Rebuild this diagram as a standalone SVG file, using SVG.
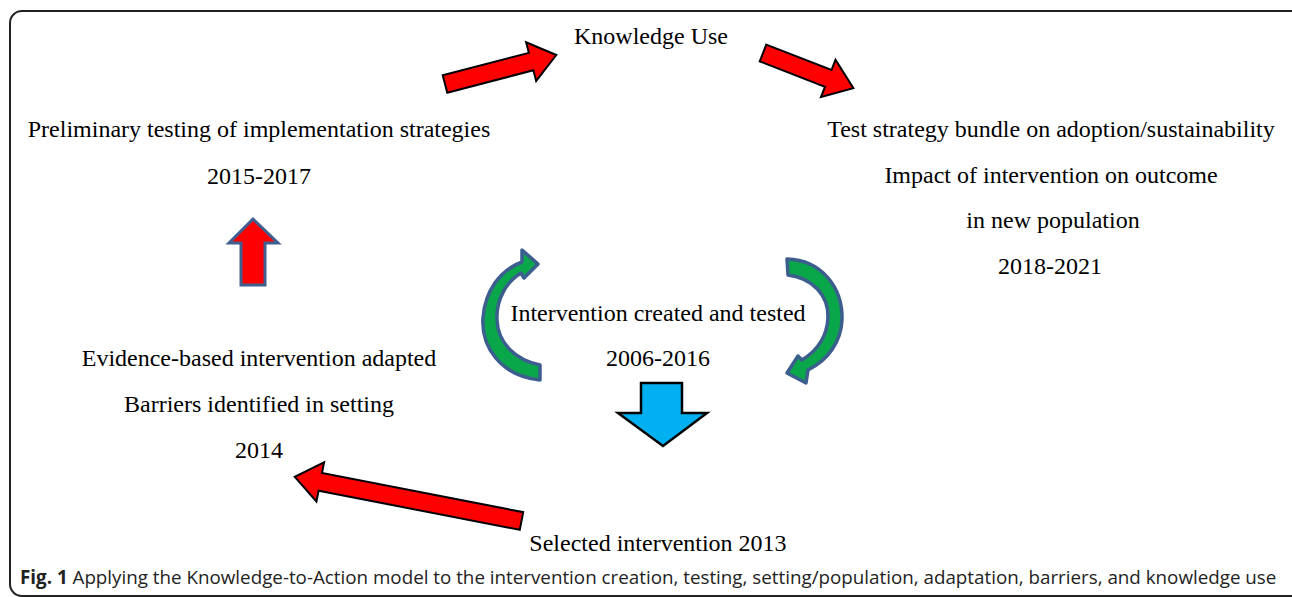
<svg xmlns="http://www.w3.org/2000/svg" width="1292" height="597" viewBox="0 0 1292 597">
<style>
.t{font-family:"Liberation Serif","Times New Roman",serif;font-size:24px;fill:#000;text-anchor:middle}
.cap{font-family:"Open Sans","DejaVu Sans",sans-serif;font-size:18.8px;fill:#222}
.red{fill:#ff0000;stroke:#000;stroke-width:2;stroke-linejoin:miter}
.redb{fill:#ff0000;stroke:#3f5f8f;stroke-width:3}
.blue{fill:#00b0f0;stroke:#000;stroke-width:2.5}
.green{fill:#0aa64a;stroke:#3c5e8e;stroke-width:3.5;stroke-linejoin:round}
</style>
<rect x="10" y="11" width="1300" height="585" rx="12" fill="#fff" stroke="#222" stroke-width="2"/>
<g id="connectors">
<polygon class="red" transform="translate(445,84) rotate(-14.6)" points="0,-9 89,-9 89,-20 115,0 89,20 89,9 0,9"/>
<polygon class="red" transform="translate(763,53) rotate(21.3)" points="0,-9 70,-9 70,-20 97,0 70,20 70,9 0,9"/>
<polygon class="redb" points="253,219 229,243 241,243 241,285 265,285 265,243 278,243"/>
<polygon class="blue" points="641,383 682,383 682,413 707,413 663,446 618,413 641,413"/>
<polygon class="red" transform="translate(521.5,521) rotate(191)" points="0,-9 205,-9 205,-20 231,0 205,20 205,9 0,9"/>
<path class="green" d="M540,380 C500,376 481,346 483,318 C485,291 500,270 522,262 L522,250 L538,264 L524,278 L521,273 C506,282 496,300 497,320 C498,343 515,360 540,365 Z"/>
<path class="green" d="M787,259 C822,260 843,288 842,320 C841,342 828,360 808,370 L806,383 L787,373 L798,356 L802,360 C818,350 827,336 828,318 C829,295 812,278 788,275 Z"/>
</g>
<g id="knowledge-use"><text class="t" x="651" y="44">Knowledge Use</text></g>
<g id="preliminary"><text class="t" x="259" y="137">Preliminary testing of implementation strategies</text><text class="t" x="259" y="184">2015-2017</text></g>
<g id="test-strategy"><text class="t" x="1051" y="137">Test strategy bundle on adoption/sustainability</text><text class="t" x="1051" y="183">Impact of intervention on outcome</text><text class="t" x="1053" y="228">in new population</text><text class="t" x="1050" y="274">2018-2021</text></g>
<g id="intervention"><text class="t" x="658" y="321">Intervention created and tested</text><text class="t" x="658" y="366">2006-2016</text></g>
<g id="evidence"><text class="t" x="259" y="366">Evidence-based intervention adapted</text><text class="t" x="259" y="412">Barriers identified in setting</text><text class="t" x="259" y="458">2014</text></g>
<g id="selected"><text class="t" x="658" y="551">Selected intervention 2013</text></g>
<text class="cap" x="20" y="584"><tspan font-weight="bold">Fig. 1</tspan> Applying the Knowledge-to-Action model to the intervention creation, testing, setting/population, adaptation, barriers, and knowledge use</text>
</svg>
